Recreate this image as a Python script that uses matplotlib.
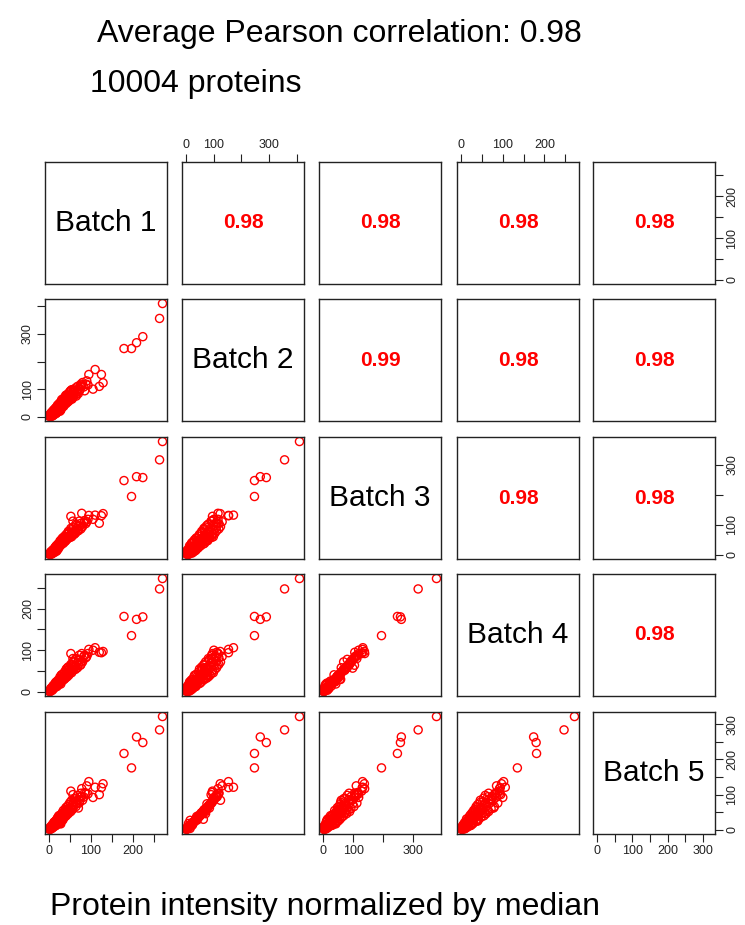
import matplotlib
matplotlib.use("Agg")
import matplotlib.pyplot as plt
import numpy as np

plt.rcParams['font.family'] = ['Liberation Sans', 'DejaVu Sans']

names = ["Batch 1", "Batch 2", "Batch 3", "Batch 4", "Batch 5"]

# protein intensities
# (dense band near the diagonal, spread points, wider cloud, medium outliers, top outliers)
batch1 = [1, 2, 3, 4, 5, 6, 7, 8, 9, 10, 11, 12, 13, 14, 15, 16, 17, 18, 19, 20,
          21, 22, 23, 24, 25, 26, 27, 28, 29, 30, 32, 34, 36, 38, 40, 42, 44, 46, 48, 50,
          53, 56, 59, 62, 66, 70, 74, 78, 83, 88, 93,
          5, 12, 15, 25, 20, 35, 30, 45, 40, 55, 50, 65, 60, 70, 75, 85, 80, 2, 8, 18,
          28, 10, 3, 6, 14, 22, 33, 38, 48, 58,
          4, 7, 9, 11, 13, 16, 17, 19, 21, 24, 26, 27, 29, 31, 32, 34, 37, 39, 41, 43,
          46, 47, 52, 54, 57, 63, 64, 68, 72, 76, 1, 3, 5, 8, 12, 15, 23, 26, 36, 44,
          110, 125, 129, 95, 78, 105, 52, 57, 90, 120,
          271, 264, 224, 209, 197, 179]
batch2 = [1, 4, 3, 7, 6, 10, 9, 13, 12, 16, 15, 19, 18, 22, 21, 25, 24, 28, 27, 31,
          29, 34, 32, 37, 35, 40, 38, 43, 41, 46, 44, 51, 50, 57, 56, 63, 61, 69, 67, 75,
          74, 82, 80, 90, 88, 101, 99, 110, 108, 118, 115,
          14, 8, 30, 22, 42, 38, 62, 54, 78, 64, 92, 75, 97, 84, 112, 94, 124, 7, 3, 14,
          24, 22, 1, 5, 12, 38, 40, 70, 58, 95,
          12, 18, 4, 24, 9, 33, 12, 35, 18, 48, 28, 52, 30, 58, 36, 66, 45, 74, 48, 80,
          56, 86, 64, 98, 70, 104, 80, 110, 92, 118, 5, 9, 2, 16, 26, 14, 44, 20, 62, 70,
          171, 153, 123, 153, 115, 100, 95, 90, 130, 110,
          410, 356, 290, 268, 247, 247]
batch3 = [2, 3, 5, 4, 8, 7, 10, 9, 13, 12, 16, 14, 18, 17, 21, 19, 24, 22, 26, 25,
          29, 27, 31, 30, 34, 32, 37, 35, 39, 38, 43, 42, 48, 47, 54, 52, 59, 57, 64, 62,
          70, 68, 78, 76, 87, 85, 96, 93, 106, 104, 118,
          9, 17, 12, 38, 22, 55, 36, 72, 47, 84, 58, 98, 68, 80, 104, 114, 94, 1, 13, 12,
          42, 6, 6, 2, 22, 20, 48, 44, 74, 70,
          10, 6, 16, 19, 8, 27, 30, 15, 36, 28, 46, 30, 50, 40, 56, 38, 62, 50, 68, 52,
          78, 56, 88, 60, 92, 72, 102, 80, 112, 86, 4, 2, 10, 14, 10, 26, 24, 40, 58, 60,
          132, 130, 137, 131, 138, 118, 128, 112, 110, 105,
          377, 316, 257, 260, 194, 247]
batch4 = [1, 2, 4, 3, 6, 5, 8, 7, 10, 9, 12, 11, 14, 13, 16, 15, 18, 17, 20, 19,
          22, 21, 24, 23, 27, 25, 29, 27, 31, 29, 34, 32, 38, 36, 42, 40, 46, 44, 50, 48,
          55, 53, 61, 59, 68, 66, 77, 74, 85, 82, 92,
          7, 10, 12, 30, 24, 30, 41, 52, 38, 64, 46, 57, 72, 78, 64, 88, 72, 3, 11, 21,
          19, 15, 5, 8, 16, 17, 37, 34, 56, 52,
          8, 5, 14, 8, 18, 14, 24, 13, 28, 20, 36, 22, 40, 26, 42, 30, 48, 33, 55, 36,
          60, 40, 66, 46, 72, 54, 80, 58, 88, 66, 2, 1, 9, 4, 16, 22, 26, 24, 30, 58,
          106, 94, 97, 102, 92, 100, 92, 80, 85, 95,
          272, 247, 180, 174, 135, 181]
batch5 = [1, 3, 3, 6, 5, 8, 7, 11, 10, 13, 12, 16, 15, 18, 17, 21, 20, 23, 22, 26,
          24, 28, 27, 31, 29, 33, 32, 36, 34, 38, 37, 43, 42, 48, 46, 53, 51, 58, 56, 63,
          61, 70, 68, 77, 75, 86, 84, 95, 93, 104, 102,
          4, 18, 24, 21, 34, 38, 30, 48, 63, 57, 78, 74, 88, 62, 94, 106, 84, 6, 5, 27,
          17, 13, 2, 9, 11, 30, 28, 52, 50, 80,
          9, 14, 7, 20, 10, 26, 13, 31, 17, 38, 24, 42, 25, 48, 30, 55, 36, 58, 40, 66,
          46, 72, 52, 84, 60, 90, 66, 98, 76, 104, 4, 7, 3, 12, 22, 12, 40, 18, 50, 46,
          121, 120, 131, 137, 117, 92, 110, 100, 125, 100,
          322, 284, 248, 264, 176, 217]

# correlations printed in the upper panels
corr = [[None, "0.98", "0.98", "0.98", "0.98"],
        [None, None, "0.99", "0.98", "0.98"],
        [None, None, None, "0.98", "0.98"],
        [None, None, None, None, "0.98"],
        [None, None, None, None, None]]

tick_step = [50, 100, 100, 50, 50]
tick_shown = [[0, 100, 200], [0, 100, 300], [0, 100, 300], [0, 100, 200], [0, 100, 200, 300]]

batches = [batch1, batch2, batch3, batch4, batch5]

W, H = 745, 925
fig = plt.figure(figsize=(W / 100, H / 100), dpi=100)

col_left = [45, 182, 319, 457, 593]
row_top = [162, 299, 437, 574, 712]
size = 122

lims = []
for b in batches:
    lo, hi = min(b), max(b)
    pad = 0.04 * (hi - lo)
    lims.append((lo - pad, hi + pad))


def ticks_for(i):
    t = np.arange(0, lims[i][1], tick_step[i])
    t = t[t >= lims[i][0]]
    labs = [str(int(v)) if int(v) in tick_shown[i] else "" for v in t]
    return t, labs


for r in range(5):
    for c in range(5):
        ax = fig.add_axes([col_left[c] / W, 1 - (row_top[r] + size) / H, size / W, size / H])
        ax.set_xlim(lims[c])
        ax.set_ylim(lims[r])
        ax.set_xticks([])
        ax.set_yticks([])
        for s in ax.spines.values():
            s.set_linewidth(1.0)
            s.set_color("#222222")

        if r == c:
            ax.text(0.5, 0.5, names[r], transform=ax.transAxes, ha="center", va="center",
                    fontsize=21.5, color="black")
        elif r > c:
            ax.scatter(batches[c], batches[r], s=34, facecolors="none", edgecolors="#ff0000",
                       linewidths=1.0)
        else:
            ax.text(0.5, 0.5, corr[r][c], transform=ax.transAxes, ha="center", va="center",
                    fontsize=15, fontweight="bold", color="#ff0000")

        tp = dict(direction="out", length=5.5, width=0.8, labelsize=9, pad=2.5, colors="#222222")
        if r == 0 and c % 2 == 1:
            t, labs = ticks_for(c)
            ax.xaxis.set_ticks_position("top")
            ax.set_xticks(t)
            ax.set_xticklabels(labs)
            ax.tick_params(axis="x", **tp)
        if r == 4 and c % 2 == 0:
            t, labs = ticks_for(c)
            ax.set_xticks(t)
            ax.set_xticklabels(labs)
            ax.tick_params(axis="x", **tp)
        if c == 0 and r % 2 == 1:
            t, labs = ticks_for(r)
            ax.set_yticks(t)
            ax.set_yticklabels(labs, rotation=90, va="center")
            ax.tick_params(axis="y", **tp)
        if c == 4 and r % 2 == 0:
            t, labs = ticks_for(r)
            ax.yaxis.set_ticks_position("right")
            ax.set_yticks(t)
            ax.set_yticklabels(labs, rotation=90, va="center")
            ax.tick_params(axis="y", **tp)

fig.text(97 / W, 1 - 34 / H, "Average Pearson correlation: 0.98", fontsize=23, va="center")
fig.text(90 / W, 1 - 84 / H, "10004 proteins", fontsize=23, va="center")
fig.text(50 / W, 1 - 907 / H, "Protein intensity normalized by median", fontsize=23, va="center")

fig.savefig("out.png", dpi=100)
